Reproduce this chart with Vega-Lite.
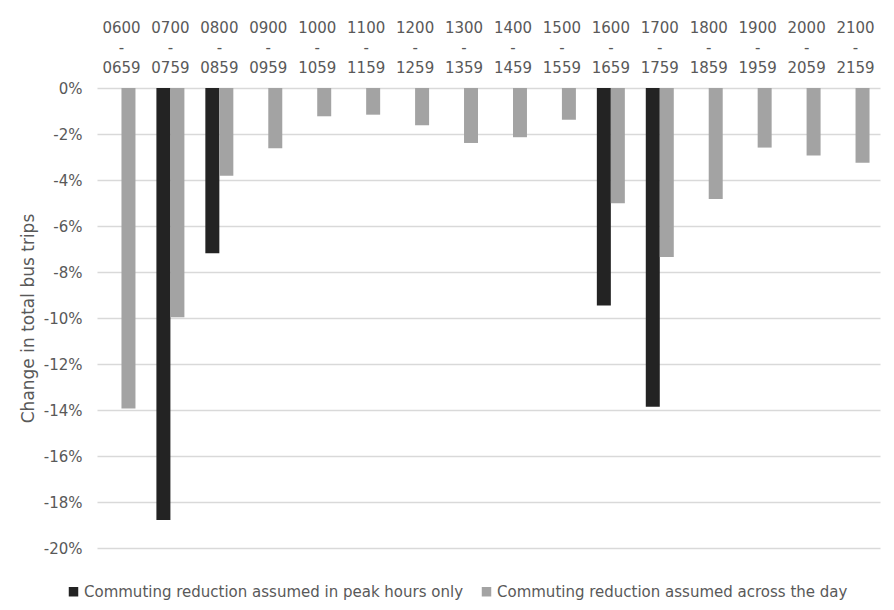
{
  "$schema": "https://vega.github.io/schema/vega-lite/v6.json",
  "autosize": "none",
  "width": 783,
  "height": 460,
  "padding": {"left": 97, "top": 88, "right": 14, "bottom": 62},
  "background": "white",
  "config": {
    "font": "DejaVu Sans",
    "view": {"stroke": null},
    "axis": {"labelColor": "#595959", "titleColor": "#595959", "labelFont": "DejaVu Sans", "titleFont": "DejaVu Sans"},
    "legend": {"labelColor": "#595959", "labelFont": "DejaVu Sans"}
  },
  "data": {
    "values": [
      {"slot": "0600-0659", "series": "Commuting reduction assumed across the day", "value": -13.93},
      {"slot": "0700-0759", "series": "Commuting reduction assumed in peak hours only", "value": -18.78},
      {"slot": "0700-0759", "series": "Commuting reduction assumed across the day", "value": -9.97},
      {"slot": "0800-0859", "series": "Commuting reduction assumed in peak hours only", "value": -7.19},
      {"slot": "0800-0859", "series": "Commuting reduction assumed across the day", "value": -3.81},
      {"slot": "0900-0959", "series": "Commuting reduction assumed across the day", "value": -2.62},
      {"slot": "1000-1059", "series": "Commuting reduction assumed across the day", "value": -1.23},
      {"slot": "1100-1159", "series": "Commuting reduction assumed across the day", "value": -1.16},
      {"slot": "1200-1259", "series": "Commuting reduction assumed across the day", "value": -1.62},
      {"slot": "1300-1359", "series": "Commuting reduction assumed across the day", "value": -2.39},
      {"slot": "1400-1459", "series": "Commuting reduction assumed across the day", "value": -2.14},
      {"slot": "1500-1559", "series": "Commuting reduction assumed across the day", "value": -1.38},
      {"slot": "1600-1659", "series": "Commuting reduction assumed in peak hours only", "value": -9.46},
      {"slot": "1600-1659", "series": "Commuting reduction assumed across the day", "value": -5.01},
      {"slot": "1700-1759", "series": "Commuting reduction assumed in peak hours only", "value": -13.86},
      {"slot": "1700-1759", "series": "Commuting reduction assumed across the day", "value": -7.35},
      {"slot": "1800-1859", "series": "Commuting reduction assumed across the day", "value": -4.83},
      {"slot": "1900-1959", "series": "Commuting reduction assumed across the day", "value": -2.59},
      {"slot": "2000-2059", "series": "Commuting reduction assumed across the day", "value": -2.93},
      {"slot": "2100-2159", "series": "Commuting reduction assumed across the day", "value": -3.25}
    ]
  },
  "mark": {"type": "bar"},
  "encoding": {
    "x": {
      "field": "slot",
      "type": "nominal",
      "sort": null,
      "scale": {
        "domain": ["0600-0659","0700-0759","0800-0859","0900-0959","1000-1059","1100-1159","1200-1259","1300-1359","1400-1459","1500-1559","1600-1659","1700-1759","1800-1859","1900-1959","2000-2059","2100-2159"],
        "paddingInner": 0.428,
        "paddingOuter": 0.214
      },
      "axis": {
        "orient": "top",
        "title": null,
        "labelAngle": 0,
        "labelExpr": "[slice(datum.label,0,4), '-', slice(datum.label,5)]",
        "labelLineHeight": 20,
        "labelFontSize": 15,
        "labelBaseline": "top",
        "labelPadding": 68,
        "ticks": false,
        "domain": false,
        "grid": false
      }
    },
    "xOffset": {
      "field": "series",
      "type": "nominal",
      "scale": {"domain": ["Commuting reduction assumed in peak hours only", "Commuting reduction assumed across the day"]}
    },
    "y": {
      "field": "value",
      "type": "quantitative",
      "scale": {"domain": [-20, 0], "nice": false, "zero": false},
      "axis": {
        "title": "Change in total bus trips",
        "titleFontSize": 17,
        "titleFontWeight": "normal",
        "titleAngle": -90,
        "titleX": -69,
        "titleY": 230,
        "titleAlign": "center",
        "titleBaseline": "middle",
        "values": [0, -2, -4, -6, -8, -10, -12, -14, -16, -18, -20],
        "labelExpr": "datum.value + '%'",
        "labelFontSize": 15,
        "labelPadding": 15,
        "ticks": false,
        "domain": false,
        "grid": true,
        "gridColor": "#d9d9d9",
        "gridWidth": 1.3
      }
    },
    "color": {
      "field": "series",
      "type": "nominal",
      "scale": {
        "domain": ["Commuting reduction assumed in peak hours only", "Commuting reduction assumed across the day"],
        "range": ["#232323", "#a3a3a3"]
      },
      "legend": {
        "title": null,
        "orient": "none",
        "direction": "horizontal",
        "legendX": -31,
        "legendY": 496,
        "symbolType": "square",
        "symbolSize": 90,
        "symbolStrokeWidth": 0,
        "labelFontSize": 15,
        "labelLimit": 0,
        "labelOffset": 3,
        "columnPadding": 15
      }
    }
  }
}
